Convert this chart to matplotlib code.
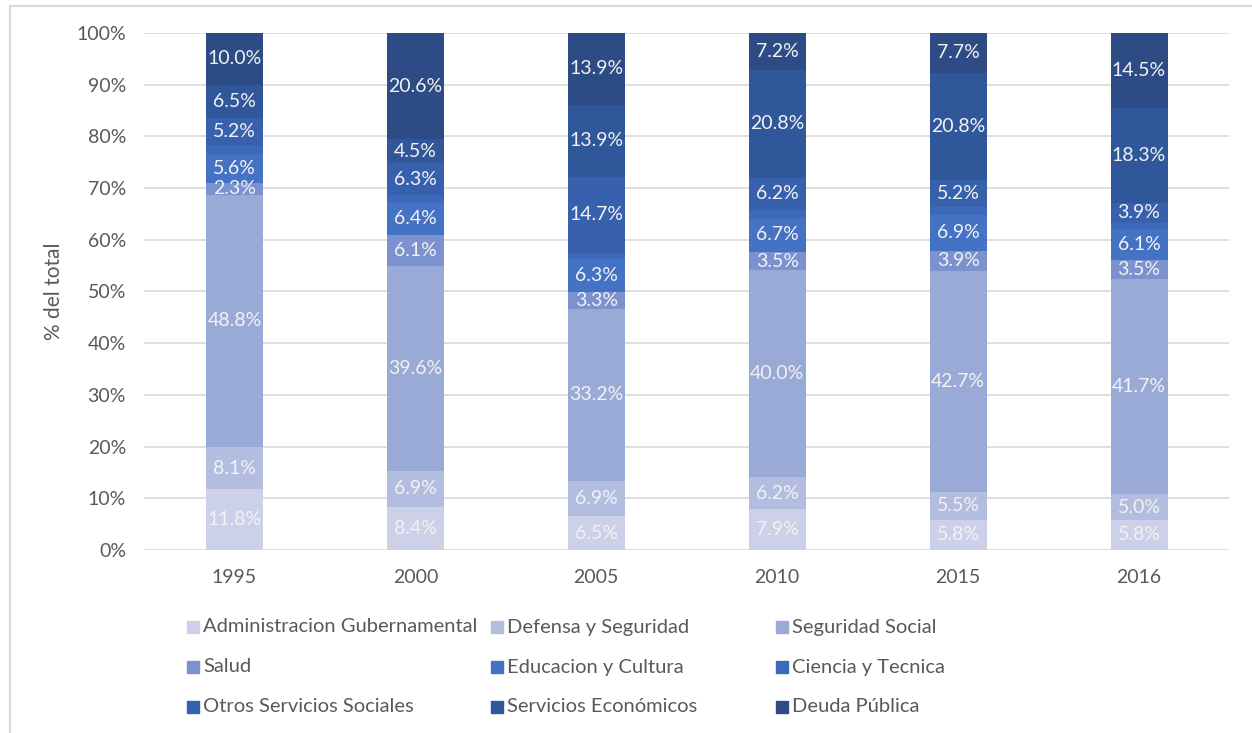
import numpy as np
import matplotlib.pyplot as plt
from matplotlib.patches import Rectangle

plt.rcParams['font.family'] = ['Lato', 'DejaVu Sans']

# Data (% of total spending)
years = ["1995", "2000", "2005", "2010", "2015", "2016"]
categories = ["Administracion Gubernamental", "Defensa y Seguridad", "Seguridad Social",
              "Salud", "Educacion y Cultura", "Ciencia y Tecnica",
              "Otros Servicios Sociales", "Servicios Económicos", "Deuda Pública"]
admin = [11.8, 8.4, 6.5, 7.9, 5.8, 5.8]
defensa = [8.1, 6.9, 6.9, 6.2, 5.5, 5.0]
seg_social = [48.8, 39.6, 33.2, 40.0, 42.7, 41.7]
salud = [2.3, 6.1, 3.3, 3.5, 3.9, 3.5]
educacion = [5.6, 6.4, 6.3, 6.7, 6.9, 6.1]
ciencia = [1.7, 1.2, 1.3, 1.5, 1.5, 1.2]
otros_sociales = [5.2, 6.3, 14.7, 6.2, 5.2, 3.9]
economicos = [6.5, 4.5, 13.9, 20.8, 20.8, 18.3]
deuda = [10.0, 20.6, 13.9, 7.2, 7.7, 14.5]

series = [admin, defensa, seg_social, salud, educacion, ciencia,
          otros_sociales, economicos, deuda]
colors = ["#CCD1E9", "#B3BDE0", "#9AAAD6", "#7C92CF", "#4472C4",
          "#3E69BA", "#3761AD", "#30579A", "#2D4B85"]
show_labels = [True, True, True, True, True, False, True, True, True]

data = np.array(series)
shares = data / data.sum(axis=0) * 100

fig = plt.figure(figsize=(12.52, 7.33), dpi=100)
ax = fig.add_axes([0.115, 0.2497, 0.867, 0.7053])

x = np.arange(len(years))
bottom = np.zeros(len(years))
for vals, raw, col, lab in zip(shares, data, colors, show_labels):
    ax.bar(x, vals, 0.315, bottom=bottom, color=col, zorder=2)
    if lab:
        for xi, b, v, r in zip(x, bottom, vals, raw):
            ax.text(xi, b + v / 2, f"{r:.1f}%", ha="center", va="center",
                    fontsize=14, color="#F2F2F2", zorder=3)
    bottom += vals

ax.set_xlim(-0.5, len(years) - 0.5)
ax.set_ylim(0, 100)
ax.set_yticks(np.arange(0, 101, 10))
ax.set_yticklabels([f"{t}%" for t in range(0, 101, 10)])
ax.set_xticks(x)
ax.set_xticklabels(years)
ax.tick_params(axis="both", length=0, labelsize=14, labelcolor="#595959")
ax.tick_params(axis="y", pad=13)
ax.tick_params(axis="x", pad=14)
ax.grid(axis="y", color="#D9D9D9", linewidth=1.2, zorder=0)
for s in ax.spines.values():
    s.set_visible(False)
ax.set_ylabel("% del total", fontsize=15, color="#595959", labelpad=9)

# legend laid out like the original (3 columns, uneven widths)
col_x = [193, 497, 782]
row_y = [627, 667, 707]
W, H = 1252, 733
for i, (name, col) in enumerate(zip(categories, colors)):
    cx = col_x[i % 3]
    cy = row_y[i // 3]
    fig.patches.append(Rectangle(((cx - 6) / W, 1 - (cy + 6) / H), 12 / W, 12 / H,
                                 transform=fig.transFigure, color=col))
    fig.text((cx + 10) / W, 1 - cy / H, name, ha="left", va="center",
             fontsize=14.5, color="#595959")

# chart frame
fig.patches.append(Rectangle((10 / W, -0.05), 1.1, 1 - 6 / H + 0.05, transform=fig.transFigure,
                             fill=False, edgecolor="#D9D9D9", linewidth=1.5))

fig.savefig("out.png", dpi=100)
